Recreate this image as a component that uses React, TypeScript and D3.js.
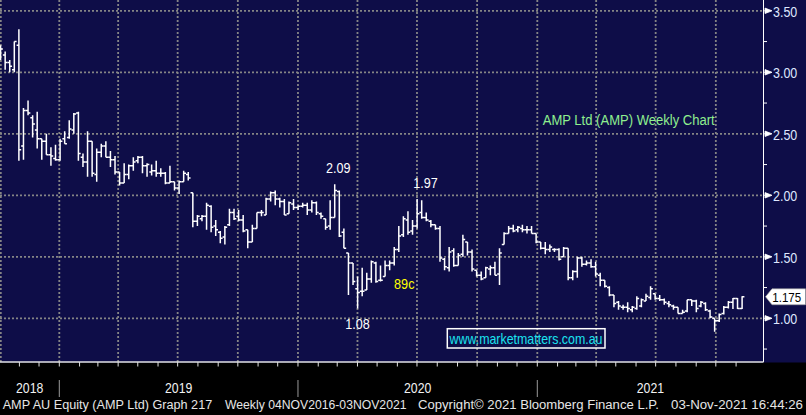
import React from 'react';
import * as d3 from 'd3';

// ---- weekly OHLC data (AMP Ltd), first bar = week ending 28 Sep 2018 ----
const FIRST_WEEK = new Date(2018, 8, 28);

const open = [
  3.20, 3.14, 3.08, 3.02, 3.22, 2.40, 2.69, 2.63, 2.53, 2.46,
  2.44, 2.33, 2.30, 2.29, 2.46, 2.47, 2.53, 2.67, 2.31, 2.27,
  2.44, 2.17, 2.35, 2.40, 2.31, 2.29, 2.19, 2.10, 2.17, 2.24,
  2.28, 2.31, 2.24, 2.19, 2.20, 2.18, 2.18, 2.10, 2.11, 2.06,
  2.11, 2.17, 2.02, 1.79, 1.81, 1.83, 1.91, 1.75, 1.70, 1.66,
  1.76, 1.86, 1.83, 1.80, 1.72, 1.62, 1.73, 1.86, 1.84, 1.97,
  2.02, 1.97, 1.95, 1.85, 1.93, 1.90, 1.91, 1.92, 1.88, 1.94,
  1.85, 1.81, 1.75, 1.82, 2.03, 1.70, 1.53, 1.45, 1.24, 1.22,
  1.23, 1.32, 1.45, 1.31, 1.34, 1.43, 1.45, 1.56, 1.68, 1.80,
  1.71, 1.75, 1.86, 1.82, 1.79, 1.76, 1.73, 1.48, 1.41, 1.55,
  1.43, 1.52, 1.62, 1.54, 1.39, 1.35, 1.33, 1.40, 1.41, 1.36,
  1.60, 1.69, 1.73, 1.72, 1.73, 1.72, 1.72, 1.69, 1.62, 1.57,
  1.56, 1.56, 1.56, 1.50, 1.57, 1.33, 1.38, 1.49, 1.44, 1.45,
  1.42, 1.35, 1.31, 1.25, 1.19, 1.13, 1.09, 1.09, 1.07, 1.08,
  1.10, 1.14, 1.17, 1.20, 1.16, 1.15, 1.12, 1.10, 1.09, 1.04,
  1.06, 1.15, 1.14, 1.10, 1.12, 1.06, 1.00, 0.98, 1.04, 1.09,
  1.13, 1.16, 1.08,
];
const high = [
  3.22, 3.17, 3.10, 3.25, 3.35, 2.71, 2.77, 2.65, 2.68, 2.46,
  2.50, 2.39, 2.41, 2.46, 2.52, 2.61, 2.67, 2.68, 2.34, 2.52,
  2.44, 2.38, 2.42, 2.44, 2.36, 2.32, 2.19, 2.26, 2.25, 2.31,
  2.32, 2.32, 2.26, 2.25, 2.28, 2.22, 2.19, 2.24, 2.11, 2.12,
  2.20, 2.19, 2.02, 1.84, 1.84, 1.94, 1.92, 1.80, 1.71, 1.75,
  1.89, 1.89, 1.88, 1.84, 1.72, 1.76, 1.86, 1.88, 1.98, 2.03,
  2.04, 1.98, 1.97, 1.95, 1.97, 1.92, 1.94, 1.94, 1.96, 1.95,
  1.86, 1.81, 1.96, 2.09, 2.04, 1.73, 1.53, 1.45, 1.34, 1.41,
  1.37, 1.47, 1.46, 1.43, 1.47, 1.47, 1.58, 1.75, 1.83, 1.87,
  1.80, 1.97, 1.96, 1.86, 1.80, 1.76, 1.75, 1.49, 1.58, 1.57,
  1.53, 1.68, 1.62, 1.56, 1.39, 1.38, 1.42, 1.43, 1.46, 1.57,
  1.70, 1.75, 1.76, 1.75, 1.76, 1.75, 1.75, 1.69, 1.62, 1.62,
  1.60, 1.57, 1.57, 1.58, 1.57, 1.39, 1.50, 1.50, 1.47, 1.48,
  1.46, 1.37, 1.31, 1.26, 1.19, 1.14, 1.11, 1.13, 1.10, 1.18,
  1.16, 1.20, 1.26, 1.20, 1.19, 1.16, 1.14, 1.11, 1.09, 1.07,
  1.15, 1.15, 1.15, 1.14, 1.13, 1.07, 1.00, 1.04, 1.10, 1.14,
  1.165, 1.165, 1.18,
];
const low = [
  3.10, 3.02, 3.00, 3.00, 2.28, 2.29, 2.65, 2.47, 2.38, 2.29,
  2.33, 2.24, 2.28, 2.28, 2.42, 2.46, 2.50, 2.28, 2.23, 2.15,
  2.15, 2.11, 2.31, 2.31, 2.23, 2.17, 2.08, 2.10, 2.13, 2.20,
  2.26, 2.18, 2.15, 2.16, 2.15, 2.15, 2.09, 2.10, 2.04, 2.01,
  2.11, 2.12, 1.74, 1.75, 1.79, 1.72, 1.70, 1.67, 1.61, 1.60,
  1.75, 1.80, 1.79, 1.70, 1.57, 1.62, 1.73, 1.83, 1.84, 1.95,
  1.92, 1.90, 1.84, 1.85, 1.88, 1.88, 1.90, 1.84, 1.86, 1.84,
  1.81, 1.72, 1.72, 1.82, 1.66, 1.57, 1.19, 1.27, 1.08, 1.18,
  1.23, 1.29, 1.29, 1.30, 1.34, 1.39, 1.43, 1.54, 1.66, 1.68,
  1.68, 1.73, 1.81, 1.79, 1.74, 1.72, 1.46, 1.39, 1.38, 1.42,
  1.43, 1.50, 1.51, 1.38, 1.34, 1.31, 1.33, 1.35, 1.35, 1.27,
  1.60, 1.69, 1.70, 1.70, 1.70, 1.69, 1.69, 1.61, 1.56, 1.52,
  1.54, 1.54, 1.47, 1.50, 1.31, 1.31, 1.33, 1.42, 1.43, 1.41,
  1.34, 1.26, 1.25, 1.18, 1.09, 1.07, 1.07, 1.05, 1.05, 1.07,
  1.09, 1.14, 1.15, 1.15, 1.14, 1.11, 1.09, 1.07, 1.04, 1.04,
  1.05, 1.10, 1.05, 1.09, 1.06, 1.00, 0.89, 0.97, 1.03, 1.08,
  1.075, 1.075, 1.075,
];
const close = [
  3.19, 3.08, 3.05, 3.25, 2.37, 2.69, 2.67, 2.58, 2.46, 2.44,
  2.33, 2.32, 2.29, 2.44, 2.42, 2.54, 2.66, 2.34, 2.27, 2.44,
  2.18, 2.35, 2.40, 2.31, 2.29, 2.19, 2.10, 2.17, 2.24, 2.27,
  2.31, 2.24, 2.25, 2.20, 2.18, 2.18, 2.10, 2.11, 2.06, 2.11,
  2.18, 2.14, 1.79, 1.83, 1.83, 1.92, 1.74, 1.72, 1.65, 1.74,
  1.86, 1.81, 1.80, 1.71, 1.62, 1.73, 1.86, 1.86, 1.97, 2.02,
  1.97, 1.95, 1.84, 1.94, 1.90, 1.91, 1.92, 1.88, 1.94, 1.86,
  1.83, 1.74, 1.82, 2.04, 1.67, 1.57, 1.45, 1.30, 1.21, 1.22,
  1.32, 1.46, 1.30, 1.31, 1.43, 1.45, 1.56, 1.67, 1.81, 1.70,
  1.75, 1.85, 1.82, 1.80, 1.76, 1.73, 1.49, 1.42, 1.54, 1.43,
  1.51, 1.64, 1.54, 1.40, 1.35, 1.32, 1.41, 1.41, 1.35, 1.53,
  1.69, 1.73, 1.71, 1.74, 1.72, 1.72, 1.69, 1.62, 1.57, 1.56,
  1.58, 1.56, 1.48, 1.57, 1.33, 1.38, 1.49, 1.44, 1.45, 1.42,
  1.36, 1.31, 1.26, 1.19, 1.12, 1.10, 1.09, 1.08, 1.09, 1.16,
  1.15, 1.18, 1.24, 1.16, 1.15, 1.13, 1.11, 1.09, 1.04, 1.05,
  1.15, 1.14, 1.08, 1.13, 1.07, 1.01, 0.98, 1.03, 1.09, 1.13,
  1.16, 1.08, 1.175,
];

const majorTicks = [1.0, 1.5, 2.0, 2.5, 3.0, 3.5];
const minorTicks = [0.75, 1.25, 1.75, 2.25, 2.75, 3.25];
const yearLabels = [2018, 2019, 2020, 2021];
const lastPrice = 1.175;

// annotations: [bar index, price, text, colour, dx, dy]
const annotations: [number, number, string, string, number, number][] = [
  [73, 2.09, '2.09', '#ffffff', 3.5, -11],
  [91, 1.97, '1.97', '#ffffff', 8.5, -10.7],
  [78, 1.08, '1.08', '#ffffff', 0, 20.8],
];

const NAVY = '#0e0d48';
const FONT = '"Liberation Sans", Arial, sans-serif';

export default function App() {
  const W = 806;
  const H = 415;
  const plotRight = 763.5;
  const plotBottom = 362;

  const x = d3
    .scaleTime()
    .domain([new Date(2019, 0, 1), new Date(2021, 0, 1)])
    .range([59.3, 537.3]);
  const y = d3.scaleLinear().domain([1, 3.5]).range([318.3, 10.8]);
  const barShift = 3.4;
  const tick = 2.3;

  const dates = open.map((_, i) => d3.timeDay.offset(FIRST_WEEK, 7 * i));
  const bx = (i: number) => x(dates[i]) + barShift;

  const monthTicks = d3
    .timeMonth.range(new Date(2018, 9, 1), new Date(2021, 11, 1))
    .map((d) => x(d))
    .filter((v) => v > -3 && v < plotRight);
  const quarterLines = d3
    .timeMonth.every(3)!
    .range(new Date(2018, 9, 1), new Date(2021, 11, 1))
    .map((d) => Math.max(x(d), 0.8))
    .filter((v) => v < plotRight - 2);

  const yearSeps = yearLabels.slice(1).map((yr) => x(new Date(yr, 0, 1)));
  const yearCenters = yearLabels.map((yr) => {
    const a = Math.max(0, x(new Date(yr, 0, 1)));
    const b = Math.min(plotRight, x(new Date(yr + 1, 0, 1)));
    return (a + b) / 2;
  });

  const barPath = (i: number) => {
    const cx = bx(i);
    return `M${cx},${y(high[i])}V${y(low[i])}M${cx - tick},${y(open[i])}H${cx}M${cx},${y(close[i])}H${cx + tick}`;
  };

  const ly = y(lastPrice);

  return (
    <svg
      width={W}
      height={H}
      viewBox={`0 0 ${W} ${H}`}
      style={{ position: 'absolute', left: 0, top: 0, display: 'block' }}
      fontFamily={FONT}
    >
      <rect x={0} y={0} width={W} height={H} fill="#000" />
      <rect x={0} y={0} width={W} height={plotBottom + 0.5} fill={NAVY} />

      {/* grid */}
      <g stroke="#858585" strokeWidth={1.8} strokeDasharray="2,2" fill="none">
        {majorTicks.map((t) => (
          <line key={'h' + t} x1={0} x2={plotRight} y1={y(t)} y2={y(t)} />
        ))}
        {quarterLines.map((v, i) => (
          <line key={'v' + i} x1={v} x2={v} y1={0} y2={plotBottom} />
        ))}
      </g>

      {/* OHLC bars */}
      <g stroke="#ffffff" strokeWidth={1.5} fill="none">
        {open.map((_, i) => (
          <path key={i} d={barPath(i)} />
        ))}
      </g>

      {/* annotations */}
      {annotations.map(([i, p, t, c, dx, dy]) => (
        <text
          key={t}
          x={bx(i) + dx}
          y={y(p) + dy}
          fill={c}
          fontSize={14.5}
          textAnchor="middle"
          textLength={24.5}
          lengthAdjust="spacingAndGlyphs"
        >
          {t}
        </text>
      ))}
      <text x={394} y={289} fill="#ffff00" fontSize={14.5} textLength={20.5} lengthAdjust="spacingAndGlyphs">
        89c
      </text>

      <text x={542.7} y={124.5} fill="#8fef8f" fontSize={14} textLength={172} lengthAdjust="spacingAndGlyphs">
        AMP Ltd (AMP) Weekly Chart
      </text>

      <rect x={447.3} y={328.7} width={157.7} height={19.3} fill="none" stroke="#ffffff" strokeWidth={1.5} />
      <text x={449.5} y={344.2} fill="#1be3ef" fontSize={15} textLength={153} lengthAdjust="spacingAndGlyphs">
        www.marketmatters.com.au
      </text>

      {/* right axis */}
      <line x1={plotRight} x2={plotRight} y1={0} y2={plotBottom} stroke="#ffffff" strokeWidth={1} />
      {minorTicks.map((t) => (
        <line key={'m' + t} x1={plotRight} x2={plotRight + 3.5} y1={y(t)} y2={y(t)} stroke="#ffffff" strokeWidth={1} />
      ))}
      {majorTicks.map((t) => (
        <g key={'t' + t}>
          <path
            d={`M${plotRight},${y(t)}H${plotRight + 2}M${plotRight + 1.5},${y(t) - 2.7}L${plotRight + 8.5},${y(t)}L${plotRight + 1.5},${y(t) + 2.7}Z`}
            fill="#ffffff"
            stroke="#ffffff"
            strokeWidth={0.8}
          />
          <text
            x={773}
            y={y(t) + 5.8}
            fill="#dfe8ff"
            fontSize={14}
            textLength={24.3}
            lengthAdjust="spacingAndGlyphs"
          >
            {d3.format('.2f')(t)}
          </text>
        </g>
      ))}

      {/* last price tag */}
      <path
        d={`M${plotRight + 2},${ly}L${plotRight + 8.5},${ly - 8}H${W - 0.5}V${ly + 8}H${plotRight + 8.5}Z`}
        fill="#ffffff"
        stroke="#9a9a9a"
        strokeWidth={0.6}
      />
      <text x={772.3} y={ly + 5} fill="#000000" fontSize={13.5} textLength={28.8} lengthAdjust="spacingAndGlyphs">
        {lastPrice.toFixed(3)}
      </text>

      {/* bottom axis */}
      <line x1={0} x2={plotRight} y1={plotBottom} y2={plotBottom} stroke="#e0e0e0" strokeWidth={1.5} />
      {monthTicks.map((v, i) => (
        <line key={'mt' + i} x1={v} x2={v} y1={plotBottom} y2={plotBottom + 4.5} stroke="#e0e0e0" strokeWidth={1} />
      ))}
      {yearSeps.map((v, i) => (
        <line key={'ys' + i} x1={v} x2={v} y1={380} y2={397} stroke="#9a9a9a" strokeWidth={1} />
      ))}
      {yearLabels.map((yr, i) => (
        <text
          key={yr}
          x={yearCenters[i]}
          y={393.3}
          fill="#f2f2f2"
          fontSize={14}
          textAnchor="middle"
          textLength={27.3}
          lengthAdjust="spacingAndGlyphs"
        >
          {yr}
        </text>
      ))}

      {/* footer */}
      <g fill="#e6e6e6" fontSize={12.5}>
        <text x={2.7} y={409.3} textLength={209.5} lengthAdjust="spacingAndGlyphs">
          AMP AU Equity (AMP Ltd) Graph 217
        </text>
        <text x={225} y={409.3} textLength={181.5} lengthAdjust="spacingAndGlyphs">
          Weekly 04NOV2016-03NOV2021
        </text>
        <text x={418} y={409.3} textLength={241} lengthAdjust="spacingAndGlyphs">
          Copyright© 2021 Bloomberg Finance L.P.
        </text>
        <text x={671} y={409.3} textLength={132} lengthAdjust="spacingAndGlyphs">
          03-Nov-2021 16:44:26
        </text>
      </g>
    </svg>
  );
}
